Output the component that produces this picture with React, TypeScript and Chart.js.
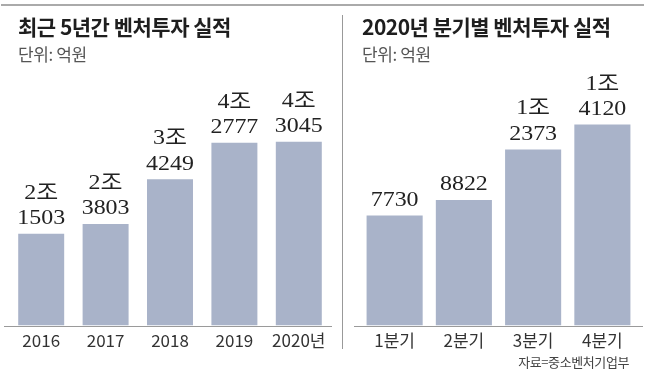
import React, { useEffect, useRef } from "react";
import { Chart, registerables } from "chart.js";
Chart.register(...registerables);

const yearLabels = ["2016", "2017", "2018", "2019", "2020년"];
const yearValues = [21503, 23803, 34249, 42777, 43045];
const quarterLabels = ["1분기", "2분기", "3분기", "4분기"];
const quarterValues = [7730, 8822, 12373, 14120];
const leftTitle = "최근 5년간 벤처투자 실적";
const rightTitle = "2020년 분기별 벤처투자 실적";
const unitText = "단위: 억원";
const sourceText = "자료=중소벤처기업부";

const BAR = "#a9b3c9";
const SANS = "'Noto Sans CJK KR', 'Noto Sans', sans-serif";

function splitJo(v: number): string[] {
  const jo = Math.floor(v / 10000);
  const rest = v % 10000;
  return jo > 0 ? [jo + "조", String(rest).padStart(4, "0")] : [String(rest)];
}

const labelPlugin = {
  id: "valueLabels",
  afterDatasetsDraw(chart: any) {
    const ctx = chart.ctx;
    const meta = chart.getDatasetMeta(0);
    const data = chart.data.datasets[0].data as number[];
    ctx.save();
    ctx.font = "21px 'Liberation Serif', 'Noto Sans CJK KR', serif";
    ctx.fillStyle = "#222";
    ctx.textAlign = "center";
    ctx.textBaseline = "alphabetic";
    meta.data.forEach((bar: any, i: number) => {
      const lines = splitJo(data[i]);
      let y = bar.y - 9.5;
      for (let k = lines.length - 1; k >= 0; k--) {
        ctx.save();
        ctx.translate(bar.x, y);
        ctx.scale(1.14, 1);
        ctx.fillText(lines[k], 0, 0);
        ctx.restore();
        y -= 25.5;
      }
    });
    ctx.restore();
  },
};

const axisLinePlugin = {
  id: "axisLine",
  afterDatasetsDraw(chart: any, _args: any, opts: any) {
    const { ctx, chartArea } = chart;
    ctx.save();
    ctx.strokeStyle = opts.color;
    ctx.lineWidth = 1;
    ctx.beginPath();
    const y = Math.round(chartArea.bottom) + 0.5;
    ctx.moveTo(chartArea.left - opts.extendLeft, y);
    ctx.lineTo(chartArea.right + opts.extendRight, y);
    ctx.stroke();
    ctx.restore();
  },
};

type PanelProps = {
  labels: string[];
  values: number[];
  max: number;
  barPct: number;
  left: number;
  width: number;
  padLeft: number;
  padRight: number;
  extendLeft: number;
  extendRight: number;
};

function BarPanel(p: PanelProps) {
  const ref = useRef<HTMLCanvasElement>(null);
  useEffect(() => {
    const chart = new Chart(ref.current!, {
      type: "bar",
      data: {
        labels: p.labels,
        datasets: [
          {
            data: p.values,
            backgroundColor: BAR,
            borderWidth: 0,
            categoryPercentage: 1,
            barPercentage: p.barPct,
          },
        ],
      },
      options: {
        animation: false,
        responsive: false,
        maintainAspectRatio: false,
        layout: { padding: { top: 112, left: p.padLeft, right: p.padRight, bottom: 17 } },
        plugins: {
          legend: { display: false },
          tooltip: { enabled: false },
          axisLine: { color: "#9a9a9a", extendLeft: p.extendLeft, extendRight: p.extendRight },
        } as any,
        scales: {
          x: {
            grid: { display: false, drawTicks: false },
            border: { display: false },
            ticks: { padding: 5, color: "#333", font: { family: SANS, size: 17 } },
          },
          y: { display: false, min: 0, max: p.max },
        },
      },
      plugins: [labelPlugin, axisLinePlugin],
    });
    return () => chart.destroy();
  }, []);
  return (
    <canvas
      ref={ref}
      width={p.width}
      height={373}
      style={{ position: "absolute", left: p.left, top: 0, width: p.width, height: 373 }}
    />
  );
}

const titleStyle: React.CSSProperties = {
  position: "absolute",
  top: 16,
  fontFamily: SANS,
  fontSize: 21,
  fontWeight: 700,
  letterSpacing: "-0.5px",
  lineHeight: 1,
  color: "#1e1e1e",
  whiteSpace: "nowrap",
};
const unitStyle: React.CSSProperties = {
  position: "absolute",
  top: 45,
  fontFamily: SANS,
  fontSize: 17,
  letterSpacing: "-0.4px",
  lineHeight: 1,
  color: "#555",
  whiteSpace: "nowrap",
};

export default function App() {
  return (
    <div
      style={{
        position: "fixed",
        left: 0,
        top: 0,
        width: 649,
        height: 373,
        background: "#fff",
        overflow: "hidden",
      }}
    >
      <div style={{ position: "absolute", left: 1, top: 4, width: 643, height: 2, background: "#aaa" }} />
      <div style={{ position: "absolute", left: 342, top: 15, width: 1, height: 334, background: "#999" }} />
      <BarPanel
        labels={yearLabels}
        values={yearValues}
        max={50000}
        barPct={0.714}
        left={0}
        width={342}
        padLeft={9}
        padRight={11}
        extendLeft={5}
        extendRight={1}
      />
      <BarPanel
        labels={quarterLabels}
        values={quarterValues}
        max={15000}
        barPct={0.81}
        left={343}
        width={306}
        padLeft={17}
        padRight={12}
        extendLeft={6}
        extendRight={6}
      />
      <div style={{ ...titleStyle, left: 18 }}>{leftTitle}</div>
      <div style={{ ...unitStyle, left: 18 }}>{unitText}</div>
      <div style={{ ...titleStyle, left: 362 }}>{rightTitle}</div>
      <div style={{ ...unitStyle, left: 362 }}>{unitText}</div>
      <div
        style={{
          position: "absolute",
          right: 20,
          top: 355,
          fontFamily: SANS,
          fontSize: 13,
          letterSpacing: "-0.4px",
          lineHeight: 1,
          color: "#444",
          whiteSpace: "nowrap",
        }}
      >
        {sourceText}
      </div>
    </div>
  );
}
